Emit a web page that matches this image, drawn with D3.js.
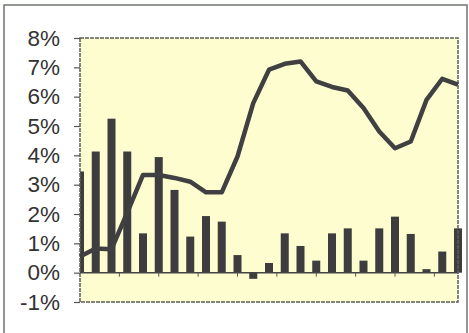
<!DOCTYPE html>
<html>
<head>
<meta charset="utf-8">
<script src="https://cdn.jsdelivr.net/npm/d3@7"></script>
<style>
  html, body { margin: 0; padding: 0; background: #ffffff; }
  svg { display: block; }
</style>
</head>
<body>
<script>
// Annual change (%) per period: bars and the smoothed line
const periods = d3.range(25);
const barValues = [3.45, 4.13, 5.25, 4.13, 1.34, 3.94, 2.82, 1.23, 1.93, 1.74,
                   0.6, -0.21, 0.33, 1.34, 0.91, 0.41, 1.34, 1.51, 0.41, 1.51,
                   1.91, 1.32, 0.12, 0.72, 1.51];
const lineValues = [0.55, 0.82, 0.8, 2.05, 3.33, 3.33, 3.23, 3.1, 2.74, 2.74,
                    3.96, 5.78, 6.92, 7.12, 7.2, 6.52, 6.33, 6.21, 5.61, 4.81,
                    4.24, 4.47, 5.89, 6.61, 6.41];
const yTickValues = [-1, 0, 1, 2, 3, 4, 5, 6, 7, 8];
const xTickPositions = [2.5, 5, 7.5, 10, 12.5, 15, 17.5, 20, 22.5];

const W = 469, H = 333;
const plot = { left: 80, top: 38, right: 458, bottom: 302 };

const svg = d3.select("body").append("svg")
  .attr("width", W).attr("height", H);

// outer frame
svg.append("rect")
  .attr("x", 4).attr("y", 5)
  .attr("width", 463).attr("height", 345)
  .attr("fill", "none")
  .attr("stroke", "#6f756f")
  .attr("stroke-width", 1.5);

const x = d3.scaleLinear().domain([0, periods.length - 1]).range([plot.left, plot.right]);
const y = d3.scaleLinear().domain([-1, 8]).range([plot.bottom, plot.top]);

// plot background
svg.append("rect")
  .attr("x", plot.left).attr("y", plot.top)
  .attr("width", plot.right - plot.left).attr("height", plot.bottom - plot.top)
  .attr("fill", "#fdfdd0");

// bars are cut off at the left edge of the plot area only
svg.append("clipPath").attr("id", "plot-clip")
  .append("rect")
  .attr("x", plot.left).attr("y", 0)
  .attr("width", W - plot.left).attr("height", H);

const barW = 8;
svg.append("g").attr("clip-path", "url(#plot-clip)")
  .selectAll("rect").data(periods).join("rect")
  .attr("x", i => x(i) - barW / 2)
  .attr("width", barW)
  .attr("y", i => y(Math.max(0, barValues[i])))
  .attr("height", i => Math.abs(y(barValues[i]) - y(0)))
  .attr("fill", "#3d3d3f");

// zero line with small downward ticks
svg.append("line")
  .attr("x1", plot.left).attr("x2", plot.right)
  .attr("y1", y(0)).attr("y2", y(0))
  .attr("stroke", "#444").attr("stroke-width", 1.5);

svg.append("g").selectAll("line").data(xTickPositions).join("line")
  .attr("x1", d => x(d)).attr("x2", d => x(d))
  .attr("y1", y(0)).attr("y2", y(0) + 4)
  .attr("stroke", "#555").attr("stroke-width", 1);

// plot border
svg.append("rect")
  .attr("x", plot.left).attr("y", plot.top)
  .attr("width", plot.right - plot.left).attr("height", plot.bottom - plot.top)
  .attr("fill", "none")
  .attr("stroke", "#5a5f58")
  .attr("stroke-width", 1.5)
  .attr("stroke-dasharray", "4,1");

// line series
const line = d3.line().x(i => x(i)).y(i => y(lineValues[i]));
svg.append("path")
  .datum(periods)
  .attr("d", line)
  .attr("fill", "none")
  .attr("stroke", "#404042")
  .attr("stroke-width", 4.5)
  .attr("stroke-linejoin", "round")
  .attr("stroke-linecap", "butt");

// y axis
const yAxis = d3.axisLeft(y)
  .tickValues(yTickValues)
  .tickSize(6)
  .tickPadding(14)
  .tickFormat(d => d + "%");

const gy = svg.append("g")
  .attr("transform", `translate(${plot.left},0)`)
  .call(yAxis);
gy.select(".domain").remove();
gy.selectAll(".tick line").attr("stroke", "#555").attr("stroke-width", 1.2);
gy.selectAll(".tick text")
  .attr("fill", "#333")
  .style("font-family", "'Liberation Sans', Arial, sans-serif")
  .style("font-size", "22.5px");
</script>
</body>
</html>
